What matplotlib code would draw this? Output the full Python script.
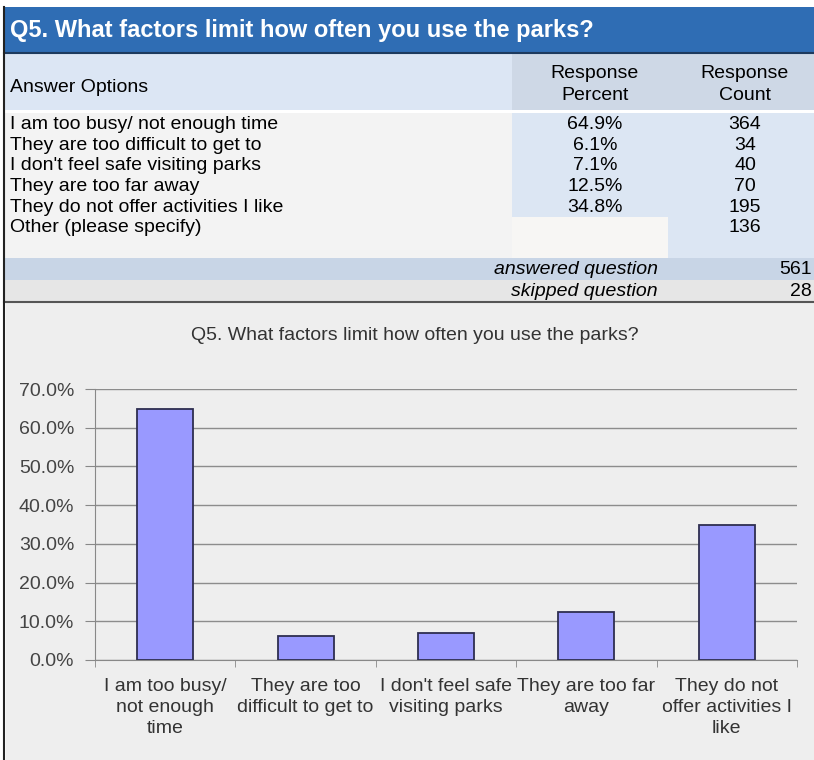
import numpy as np
import matplotlib
matplotlib.use("Agg")
import matplotlib.pyplot as plt
from matplotlib.patches import Rectangle
from matplotlib.ticker import FuncFormatter

plt.rcParams['font.family'] = ['Liberation Sans', 'DejaVu Sans']

# ============================================================
# 数据
# ============================================================
question = "Q5. What factors limit how often you use the parks?"
options = ["I am too busy/ not enough time",
           "They are too difficult to get to",
           "I don't feel safe visiting parks",
           "They are too far away",
           "They do not offer activities I like"]
percents = [64.9, 6.1, 7.1, 12.5, 34.8]
counts = [364, 34, 40, 70, 195]
other_label = "Other (please specify)"
other_count = 136
answered = 561
skipped = 28
bar_labels = ["I am too busy/\nnot enough\ntime",
              "They are too\ndifficult to get to",
              "I don't feel safe\nvisiting parks",
              "They are too far\naway",
              "They do not\noffer activities I\nlike"]

W, H = 814, 760
fig = plt.figure(figsize=(W / 100, H / 100), dpi=100)
fig.patch.set_facecolor("white")

# 背景画布，用像素坐标画表格
bg = fig.add_axes([0, 0, 1, 1])
bg.set_xlim(0, W)
bg.set_ylim(H, 0)
bg.axis("off")


def box(x0, y0, x1, y1, color):
    bg.add_patch(Rectangle((x0, y0), x1 - x0, y1 - y0, facecolor=color,
                           edgecolor="none", zorder=1))


# ---- 表格 ----
box(4, 7, W, 53, "#2F6DB4")
bg.plot([4, W], [53, 53], color="#1d3a5e", lw=1.5, zorder=2)
bg.text(10, 30, question, color="white", fontsize=17, fontweight="bold",
        va="center", ha="left", zorder=3)

box(4, 54, 512, 110, "#DCE6F4")
box(512, 54, W, 110, "#CED8E6")
bg.text(10, 88, "Answer Options", fontsize=14, va="center", zorder=3)
# 两行表头分开写，行距更好控制
for cx, words in [(595, ("Response", "Percent")), (745, ("Response", "Count"))]:
    bg.text(cx, 74, words[0], fontsize=14, va="center", ha="center", zorder=3)
    bg.text(cx, 96, words[1], fontsize=14, va="center", ha="center", zorder=3)

row_h = 20.7
y0 = 113
box(4, y0, 512, 258, "#F3F3F3")
box(512, y0, 668, y0 + 5 * row_h, "#DCE6F3")
box(512, y0 + 5 * row_h, 668, 258, "#F7F6F4")
box(668, y0, W, 258, "#DCE6F3")

for i, (opt, p, c) in enumerate(zip(options, percents, counts)):
    yc = y0 + (i + 0.5) * row_h + 1
    bg.text(10, yc, opt, fontsize=14, va="center", zorder=3)
    bg.text(595, yc, f"{p:.1f}%", fontsize=14, va="center", ha="center", zorder=3)
    bg.text(745, yc, str(c), fontsize=14, va="center", ha="center", zorder=3)
yc = y0 + 5.5 * row_h + 1
bg.text(10, yc, other_label, fontsize=14, va="center", zorder=3)
bg.text(745, yc, str(other_count), fontsize=14, va="center", ha="center", zorder=3)

box(4, 258, W, 280, "#C8D5E6")
box(4, 280, W, 301, "#E6E6E6")
bg.text(658, 269, "answered question", fontsize=14, style="italic",
        va="center", ha="right", zorder=3)
bg.text(812, 269, str(answered), fontsize=14, va="center", ha="right", zorder=3)
bg.text(658, 291, "skipped question", fontsize=14, style="italic",
        va="center", ha="right", zorder=3)
bg.text(812, 291, str(skipped), fontsize=14, va="center", ha="right", zorder=3)

# ---- 图表区域 ----
box(6, 302, W, H, "#EEEEEE")
bg.plot([4, W], [302, 302], color="#555555", lw=1.5, zorder=2)
bg.plot([4, 4], [7, H], color="#222222", lw=1.5, zorder=2)
bg.text(415, 336, question, fontsize=14, color="#333333",
        va="center", ha="center", zorder=3)

ax_l, ax_r, ax_t, ax_b = 95, 797, 389, 660
ax = fig.add_axes([ax_l / W, (H - ax_b) / H, (ax_r - ax_l) / W, (ax_b - ax_t) / H])
ax.set_facecolor("none")

x = np.arange(len(percents))
ax.bar(x, percents, width=0.4, color="#9999FF", edgecolor="#2E2E50",
       linewidth=1.3, zorder=3)
ax.set_xlim(-0.5, len(percents) - 0.5)
ax.set_ylim(0, 70)
ax.set_yticks(np.arange(0, 71, 10))
ax.yaxis.set_major_formatter(FuncFormatter(lambda v, pos: f"{v:.1f}%"))
ax.yaxis.grid(True, color="#8C8C8C", linewidth=1)
ax.set_axisbelow(True)

ax.set_xticks(x)
ax.set_xticklabels(bar_labels, fontsize=14, color="#333333", linespacing=1.3)
ax.tick_params(axis="x", length=0, pad=13)
ax.set_xticks(np.arange(-0.5, len(percents)), minor=True)
ax.tick_params(axis="x", which="minor", length=5, color="#888888", direction="out")
ax.tick_params(axis="y", length=7, color="#888888", labelsize=14,
               labelcolor="#444444", pad=8)

for s in ["top", "right"]:
    ax.spines[s].set_visible(False)
for s in ["left", "bottom"]:
    ax.spines[s].set_color("#888888")

fig.savefig("out.png", dpi=100)
plt.close(fig)
